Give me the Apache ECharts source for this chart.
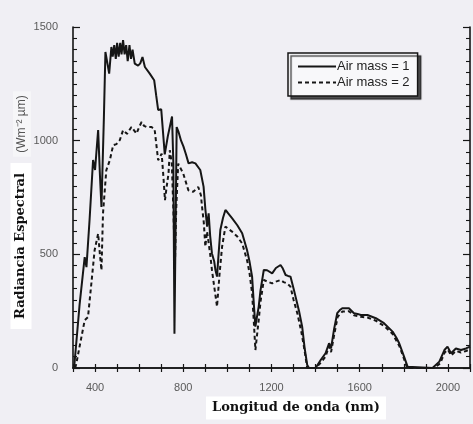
<!DOCTYPE html>
<html>
<head>
<meta charset="utf-8">
<script src="https://cdn.jsdelivr.net/npm/echarts@6/dist/echarts.min.js"></script>
<style>
  html, body { margin: 0; padding: 0; background: #f0eff4; }
  #chart { width: 473px; height: 424px; }
</style>
</head>
<body>
<div id="chart"></div>
<script>
// longitud de onda (nm) y radiancia espectral
var am1Wavelength = [305, 330, 353, 361, 375, 391, 400, 407, 414, 422, 429, 433, 440, 447, 456, 464, 474, 480, 487, 494, 500, 507, 514, 520, 527, 534, 541, 548, 556, 563, 570, 580, 595, 605, 615, 626, 648, 668, 677, 686, 700, 709, 716, 730, 749, 755, 760, 765, 770, 778, 790, 801, 812, 824, 840, 855, 877, 892, 900, 908, 915, 922, 930, 940, 946, 953, 960, 968, 980, 991, 1000, 1021, 1045, 1067, 1089, 1100, 1112, 1120, 1127, 1135, 1142, 1150, 1165, 1180, 1203, 1220, 1241, 1250, 1264, 1275, 1286, 1300, 1309, 1325, 1339, 1350, 1362, 1370, 1400, 1423, 1445, 1461, 1470, 1483, 1498, 1510, 1521, 1551, 1574, 1590, 1605, 1635, 1673, 1710, 1749, 1765, 1779, 1801, 1817, 1825, 1930, 1961, 1984, 1998, 2014, 2036, 2059, 2082, 2100];
var am1Radiance = [0, 280, 488, 444, 650, 915, 871, 960, 1047, 850, 708, 708, 1100, 1390, 1340, 1295, 1412, 1370, 1420, 1360, 1430, 1370, 1430, 1380, 1442, 1380, 1420, 1350, 1420, 1360, 1400, 1339, 1330, 1340, 1368, 1324, 1295, 1266, 1200, 1135, 1138, 1141, 940, 1020, 1106, 900, 151, 600, 1060, 1040, 1000, 974, 940, 900, 905, 900, 871, 798, 700, 622, 680, 580, 504, 470, 430, 402, 500, 607, 660, 695, 685, 659, 628, 593, 519, 470, 402, 280, 182, 230, 270, 340, 431, 430, 416, 440, 453, 440, 409, 405, 402, 350, 314, 250, 182, 90, 13, 0, 0, 35, 65, 109, 86, 167, 241, 255, 263, 263, 241, 238, 233, 233, 219, 197, 160, 135, 109, 50, 6, 0, 0, 28, 79, 94, 65, 86, 79, 86, 94];

var am2Wavelength = [310, 315, 335, 353, 368, 380, 398, 414, 422, 429, 436, 451, 467, 482, 497, 512, 527, 545, 565, 588, 600, 611, 622, 633, 656, 670, 686, 702, 710, 717, 725, 733, 739, 748, 755, 762, 768, 777, 800, 823, 845, 868, 880, 885, 893, 900, 908, 915, 922, 930, 940, 953, 965, 976, 991, 1021, 1045, 1067, 1089, 1100, 1112, 1120, 1127, 1135, 1142, 1150, 1165, 1203, 1220, 1241, 1255, 1271, 1286, 1300, 1317, 1335, 1347, 1362, 1400, 1425, 1445, 1460, 1470, 1485, 1500, 1521, 1551, 1574, 1605, 1635, 1673, 1710, 1749, 1779, 1801, 1815, 1935, 1965, 1985, 2000, 2014, 2036, 2059, 2082, 2100];
var am2Radiance = [0, 19, 120, 210, 224, 340, 518, 591, 500, 430, 679, 870, 914, 980, 985, 1002, 1046, 1030, 1060, 1031, 1060, 1082, 1065, 1060, 1060, 1050, 914, 943, 840, 738, 800, 855, 958, 900, 700, 450, 700, 899, 855, 782, 775, 796, 760, 710, 640, 534, 600, 607, 500, 431, 360, 270, 420, 534, 622, 600, 578, 548, 475, 420, 329, 200, 79, 150, 211, 290, 387, 372, 380, 387, 378, 372, 358, 300, 241, 160, 94, 0, 0, 25, 50, 95, 70, 150, 225, 248, 250, 232, 225, 222, 208, 185, 150, 98, 40, 0, 0, 20, 68, 80, 55, 75, 68, 75, 82];

var seriesNames = ['Air mass = 1', 'Air mass = 2'];
var xTickLabels = [400, 800, 1200, 1600, 2000];
var yTickLabels = [0, 500, 1000, 1500];

function zip(xs, ys) {
  return xs.map(function (x, i) { return [x, ys[i]]; });
}

var chart = echarts.init(document.getElementById('chart'));

var axisLine = { show: true, lineStyle: { color: '#151515', width: 1.6 } };
var tickFont = { color: '#5a5a5a', fontSize: 11, fontFamily: 'Liberation Sans' };

var option = {
  animation: false,
  backgroundColor: '#f0eff4',
  grid: { left: 73, right: 3, top: 27, bottom: 56 },
  legend: {
    orient: 'vertical',
    left: 288,
    top: 53,
    padding: [7, 8, 7, 9],
    itemGap: 3,
    itemWidth: 38,
    itemHeight: 10,
    itemStyle: { opacity: 0 },
    backgroundColor: '#f8f8fa',
    borderColor: '#151515',
    borderWidth: 1.5,
    shadowColor: 'rgba(40,40,40,0.8)',
    shadowBlur: 1,
    shadowOffsetX: 3,
    shadowOffsetY: 3,
    textStyle: { color: '#222', fontSize: 13, fontFamily: 'Liberation Sans', padding: [0, 0, 0, -4] },
    data: seriesNames
  },
  xAxis: [{
    type: 'value',
    min: 300,
    max: 2100,
    interval: 100,
    axisLine: axisLine,
    axisTick: { inside: true, length: 4, lineStyle: { color: '#151515', width: 1.2 } },
    axisLabel: {
      margin: 14,
      formatter: function (v) { return xTickLabels.indexOf(v) >= 0 ? String(v) : ''; },
      color: tickFont.color, fontSize: tickFont.fontSize, fontFamily: tickFont.fontFamily
    },
    splitLine: { show: false }
  }, {
    type: 'value',
    position: 'top',
    min: 300,
    max: 2100,
    interval: 100,
    axisLine: axisLine,
    axisTick: { inside: true, length: 4, lineStyle: { color: '#151515', width: 1.2 } },
    axisLabel: { show: false },
    splitLine: { show: false }
  }],
  yAxis: [{
    type: 'value',
    min: 0,
    max: 1500,
    interval: 500,
    axisLine: axisLine,
    axisTick: { inside: true, length: 7, lineStyle: { color: '#151515', width: 1.2 } },
    minorTick: { show: true, splitNumber: 10, length: 4, lineStyle: { color: '#151515', width: 1.1 } },
    axisLabel: {
      margin: 15,
      formatter: function (v) { return yTickLabels.indexOf(v) >= 0 ? String(v) : ''; },
      color: tickFont.color, fontSize: tickFont.fontSize, fontFamily: tickFont.fontFamily
    },
    splitLine: { show: false }
  }, {
    type: 'value',
    position: 'right',
    min: 0,
    max: 1500,
    interval: 500,
    axisLine: axisLine,
    axisTick: { inside: true, length: 7, lineStyle: { color: '#151515', width: 1.2 } },
    minorTick: { show: true, splitNumber: 10, length: 4, lineStyle: { color: '#151515', width: 1.1 } },
    axisLabel: { show: false },
    splitLine: { show: false }
  }],
  series: [{
    name: seriesNames[0],
    type: 'line',
    symbol: 'none',
    data: zip(am1Wavelength, am1Radiance),
    lineStyle: { color: '#161616', width: 2 },
    itemStyle: { color: '#161616' }
  }, {
    name: seriesNames[1],
    type: 'line',
    symbol: 'none',
    data: zip(am2Wavelength, am2Radiance),
    lineStyle: { color: '#161616', width: 2, type: [4, 3] },
    itemStyle: { color: '#161616' }
  }],
  graphic: [{
    type: 'text',
    x: 21,
    y: 246,
    rotation: Math.PI / 2,
    style: {
      text: 'Radiancia Espectral',
      font: 'bold 13px "DejaVu Serif"',
      fill: '#111',
      align: 'center',
      verticalAlign: 'middle',
      backgroundColor: '#ffffff',
      padding: [4, 10, 4, 10]
    }
  }, {
    type: 'text',
    x: 22,
    y: 124,
    rotation: Math.PI / 2,
    style: {
      text: '(Wm\u207B\u00B2 \u00B5m)',
      font: '12px "Liberation Sans"',
      fill: '#555',
      align: 'center',
      verticalAlign: 'middle',
      backgroundColor: '#f6f6f8',
      padding: [3, 4, 3, 4]
    }
  }, {
    type: 'text',
    x: 296,
    y: 408,
    style: {
      text: 'Longitud de onda (nm)',
      font: 'bold 13px "DejaVu Serif"',
      fill: '#111',
      align: 'center',
      verticalAlign: 'middle',
      backgroundColor: '#ffffff',
      padding: [5, 6, 5, 6]
    }
  }]
};

chart.setOption(option);
</script>
</body>
</html>
